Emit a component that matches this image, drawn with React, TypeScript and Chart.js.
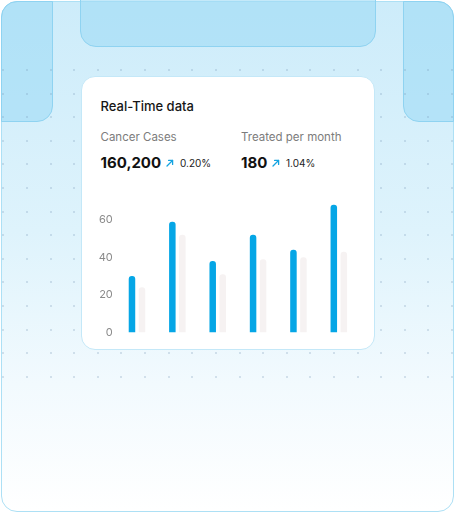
import React, { useEffect, useRef } from "react";
import { Chart, registerables } from "chart.js";

Chart.register(...registerables);

const categories = ["1", "2", "3", "4", "5", "6"];
const casesValues = [30, 59, 38, 52, 44, 68];
const treatedValues = [24, 52, 31, 39, 40, 43];
const tickValues = [0, 20, 40, 60];

const FONT = "Inter, 'Noto Sans', sans-serif";

function Arrow({ left, top }: { left: number; top: number }) {
  return (
    <svg
      width={8}
      height={8}
      viewBox="0 0 8 8"
      style={{ position: "absolute", left, top }}
    >
      <path d="M1 7 L6.5 1.5" stroke="#14a3e0" strokeWidth={1.3} fill="none" strokeLinecap="round" />
      <path d="M2.6 1.4 L6.6 1.4 L6.6 5.4" stroke="#14a3e0" strokeWidth={1.3} fill="none" strokeLinecap="round" strokeLinejoin="round" />
    </svg>
  );
}

function BarChart() {
  const ref = useRef<HTMLCanvasElement | null>(null);
  useEffect(() => {
    if (!ref.current) return;
    const chart = new Chart(ref.current, {
      type: "bar",
      data: {
        labels: categories,
        datasets: [
          {
            label: "Cancer Cases",
            data: casesValues,
            backgroundColor: "#05a6e6",
            borderRadius: 3,
            borderSkipped: "start",
            categoryPercentage: 0.496,
            barPercentage: 0.65,
          },
          {
            label: "Treated per month",
            data: treatedValues,
            backgroundColor: "#f6f2f2",
            borderRadius: 3,
            borderSkipped: "start",
            categoryPercentage: 0.496,
            barPercentage: 0.65,
          },
        ],
      },
      options: {
        animation: false,
        responsive: false,
        maintainAspectRatio: false,
        layout: { padding: { top: 11, bottom: 10.5, left: 0, right: 0 } },
        plugins: { legend: { display: false }, tooltip: { enabled: false } },
        scales: {
          x: {
            display: false,
          },
          y: {
            min: 0,
            max: 70,
            border: { display: false },
            grid: { display: false, drawTicks: false },
            afterFit: (s: any) => {
              s.width = 21.8;
            },
            afterBuildTicks: (s: any) => {
              s.ticks = tickValues.map((v) => ({ value: v }));
            },
            ticks: {
              padding: 4,
              color: "#8a8a8a",
              font: { family: FONT, size: 11 },
            },
          },
        },
      },
    });
    return () => chart.destroy();
  }, []);
  return (
    <canvas
      ref={ref}
      width={264}
      height={153}
      style={{ position: "absolute", left: 95, top: 190, width: 264, height: 153 }}
    />
  );
}

export default function App() {
  const dots: React.ReactNode[] = [];
  for (let j = 0; j < 14; j++) {
    for (let i = 0; i < 20; i++) {
      dots.push(
        <div
          key={`${i}-${j}`}
          style={{
            position: "absolute",
            left: 3.3 + 23.62 * i - 1,
            top: 70 + 23.6 * j - 1,
            width: 2,
            height: 2,
            borderRadius: 1,
            background: "rgba(120,150,180,0.35)",
          }}
        />
      );
    }
  }
  const tabStyle: React.CSSProperties = {
    position: "absolute",
    background: "rgba(160,220,245,0.62)",
    border: "1.5px solid #8fd3f1",
    boxSizing: "border-box",
  };
  return (
    <div
      style={{
        position: "fixed",
        left: 0,
        top: 0,
        width: 455,
        height: 513,
        overflow: "hidden",
        background: "#ffffff",
        fontFamily: FONT,
      }}
    >
      <div
        style={{
          position: "absolute",
          left: 1,
          top: 1,
          width: 453,
          height: 511,
          boxSizing: "border-box",
          border: "1.5px solid #ade0f5",
          borderRadius: 16,
          background: "linear-gradient(to bottom, #cdecfa 0%, #def3fc 45%, #f2fafe 75%, #ffffff 100%)",
          overflow: "hidden",
        }}
      />
      <div
        style={{
          ...tabStyle,
          left: 1,
          top: 1,
          width: 52,
          height: 120.5,
          borderTopLeftRadius: 16,
          borderBottomRightRadius: 16,
        }}
      />
      <div
        style={{
          ...tabStyle,
          left: 402.5,
          top: 1,
          width: 51.5,
          height: 120.5,
          borderTopRightRadius: 16,
          borderBottomLeftRadius: 16,
        }}
      />
      <div
        style={{
          ...tabStyle,
          left: 80,
          top: -2,
          width: 296,
          height: 49,
          borderBottomLeftRadius: 16,
          borderBottomRightRadius: 16,
        }}
      />
      {dots}
      <div
        style={{
          position: "absolute",
          left: 80.5,
          top: 75.5,
          width: 294.5,
          height: 274.5,
          boxSizing: "border-box",
          background: "#ffffff",
          border: "1px solid #c4e8f8",
          borderRadius: 14,
        }}
      />
      <div style={{ position: "absolute", left: 100.5, top: 100.3, fontSize: 13, lineHeight: "13px", fontWeight: 500, color: "#161616", whiteSpace: "nowrap" }}>
        Real-Time data
      </div>
      <div style={{ position: "absolute", left: 100.5, top: 132.3, fontSize: 11.5, lineHeight: "11.5px", color: "#7c7c7c", whiteSpace: "nowrap" }}>
        Cancer Cases
      </div>
      <div style={{ position: "absolute", left: 241, top: 132.3, fontSize: 11.5, lineHeight: "11.5px", color: "#7c7c7c", whiteSpace: "nowrap" }}>
        Treated per month
      </div>
      <div style={{ position: "absolute", left: 100.5, top: 155.3, fontSize: 15, lineHeight: "15px", fontWeight: 700, color: "#111111", whiteSpace: "nowrap" }}>
        160,200
      </div>
      <Arrow left={165.5} top={158.5} />
      <div style={{ position: "absolute", left: 180, top: 157.5, fontSize: 10, lineHeight: "10px", color: "#222222", whiteSpace: "nowrap" }}>
        0.20%
      </div>
      <div style={{ position: "absolute", left: 241, top: 155.3, fontSize: 15, lineHeight: "15px", fontWeight: 700, color: "#111111", whiteSpace: "nowrap" }}>
        180
      </div>
      <Arrow left={271.5} top={158.5} />
      <div style={{ position: "absolute", left: 286, top: 157.5, fontSize: 10, lineHeight: "10px", color: "#222222", whiteSpace: "nowrap" }}>
        1.04%
      </div>
      <BarChart />
    </div>
  );
}
